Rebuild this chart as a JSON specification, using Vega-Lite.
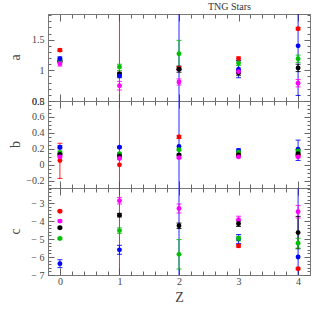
{
"$schema":"https://vega.github.io/schema/vega-lite/v6.json",
"padding":{"left":5,"top":1,"right":5,"bottom":5},
"title":{"text":"TNG Stars","anchor":"end","dx":-60,"dy":2,"fontSize":10,"font":"Liberation Serif","fontWeight":"normal","color":"#333","offset":0},
"bounds":"flush",
"spacing":0,
"datasets":{
"a":[
{"z":0,"s":"red","v":1.33,"lo":1.31,"hi":1.35},{"z":0,"s":"black","v":1.15,"lo":1.13,"hi":1.17},{"z":0,"s":"green","v":1.165,"lo":1.14,"hi":1.19},{"z":0,"s":"blue","v":1.19,"lo":1.16,"hi":1.22},{"z":0,"s":"magenta","v":1.11,"lo":1.07,"hi":1.15},
{"z":1,"s":"red","v":0.92,"lo":-5,"hi":8},{"z":1,"s":"black","v":0.94,"lo":0.91,"hi":0.97},{"z":1,"s":"blue","v":0.91,"lo":0.88,"hi":0.94},{"z":1,"s":"green","v":1.055,"lo":1.0,"hi":1.1},{"z":1,"s":"magenta","v":0.75,"lo":0.68,"hi":0.82},
{"z":2,"s":"blue","v":1.02,"lo":-5,"hi":8},{"z":2,"s":"red","v":1.03,"lo":1.0,"hi":1.06},{"z":2,"s":"black","v":1.02,"lo":0.97,"hi":1.07},{"z":2,"s":"green","v":1.27,"lo":1.05,"hi":1.49},{"z":2,"s":"magenta","v":0.81,"lo":0.76,"hi":0.86},
{"z":3,"s":"black","v":0.96,"lo":0.92,"hi":1.0},{"z":3,"s":"red","v":1.19,"lo":1.16,"hi":1.22},{"z":3,"s":"green","v":1.12,"lo":1.08,"hi":1.16},{"z":3,"s":"blue","v":1.02,"lo":0.88,"hi":1.16},{"z":3,"s":"magenta","v":0.98,"lo":0.95,"hi":1.01},
{"z":4,"s":"red","v":1.68,"lo":1.66,"hi":1.7},{"z":4,"s":"blue","v":1.4,"lo":0.59,"hi":2.21},{"z":4,"s":"green","v":1.19,"lo":1.13,"hi":1.25},{"z":4,"s":"black","v":1.04,"lo":0.98,"hi":1.1},{"z":4,"s":"magenta","v":0.79,"lo":0.73,"hi":0.85}
],
"b":[
{"z":0,"s":"red","v":0.055,"lo":-0.17,"hi":0.27},{"z":0,"s":"blue","v":0.22,"lo":0.2,"hi":0.24},{"z":0,"s":"green","v":0.155,"lo":0.14,"hi":0.17},{"z":0,"s":"black","v":0.13,"lo":0.12,"hi":0.14},{"z":0,"s":"magenta","v":0.1,"lo":0.09,"hi":0.11},
{"z":1,"s":"red","v":0.0,"lo":-5,"hi":5},{"z":1,"s":"blue","v":0.22,"lo":0.21,"hi":0.23},{"z":1,"s":"green","v":0.14,"lo":0.13,"hi":0.15},{"z":1,"s":"black","v":0.11,"lo":0.1,"hi":0.12},{"z":1,"s":"magenta","v":0.08,"lo":0.07,"hi":0.09},
{"z":2,"s":"blue","v":0.23,"lo":-5,"hi":5},{"z":2,"s":"red","v":0.35,"lo":0.33,"hi":0.37},{"z":2,"s":"green","v":0.19,"lo":0.18,"hi":0.2},{"z":2,"s":"black","v":0.125,"lo":0.115,"hi":0.135},{"z":2,"s":"magenta","v":0.09,"lo":0.08,"hi":0.1},
{"z":3,"s":"red","v":0.14,"lo":0.13,"hi":0.15},{"z":3,"s":"blue","v":0.18,"lo":0.16,"hi":0.2},{"z":3,"s":"green","v":0.16,"lo":0.15,"hi":0.17},{"z":3,"s":"black","v":0.125,"lo":0.115,"hi":0.135},{"z":3,"s":"magenta","v":0.1,"lo":0.09,"hi":0.11},
{"z":4,"s":"red","v":0.12,"lo":0.11,"hi":0.13},{"z":4,"s":"blue","v":0.196,"lo":0.055,"hi":0.31},{"z":4,"s":"green","v":0.175,"lo":0.165,"hi":0.185},{"z":4,"s":"black","v":0.14,"lo":0.13,"hi":0.15},{"z":4,"s":"magenta","v":0.1,"lo":0.09,"hi":0.11}
],
"c":[
{"z":0,"s":"red","v":-3.45,"lo":-3.5,"hi":-3.4},{"z":0,"s":"magenta","v":-4.0,"lo":-4.05,"hi":-3.95},{"z":0,"s":"black","v":-4.37,"lo":-4.42,"hi":-4.32},{"z":0,"s":"green","v":-4.97,"lo":-5.02,"hi":-4.92},{"z":0,"s":"blue","v":-6.37,"lo":-6.59,"hi":-6.15},
{"z":1,"s":"red","v":-8,"lo":-20,"hi":10},{"z":1,"s":"magenta","v":-2.87,"lo":-3.05,"hi":-2.69},{"z":1,"s":"black","v":-3.67,"lo":-3.77,"hi":-3.57},{"z":1,"s":"green","v":-4.53,"lo":-4.68,"hi":-4.38},{"z":1,"s":"blue","v":-5.6,"lo":-5.85,"hi":-5.35},
{"z":2,"s":"blue","v":-8,"lo":-20,"hi":10},{"z":2,"s":"red","v":-7.6,"lo":-7.7,"hi":-7.5},{"z":2,"s":"magenta","v":-3.3,"lo":-3.55,"hi":-3.05},{"z":2,"s":"black","v":-4.26,"lo":-4.41,"hi":-4.11},{"z":2,"s":"green","v":-5.85,"lo":-6.67,"hi":-5.03},
{"z":3,"s":"red","v":-5.38,"lo":-5.45,"hi":-5.31},{"z":3,"s":"magenta","v":-3.93,"lo":-4.13,"hi":-3.73},{"z":3,"s":"black","v":-4.15,"lo":-4.3,"hi":-4.0},{"z":3,"s":"blue","v":-5.0,"lo":-5.25,"hi":-4.75},{"z":3,"s":"green","v":-4.97,"lo":-5.1,"hi":-4.84},
{"z":4,"s":"blue","v":-6.0,"lo":-20,"hi":10},{"z":4,"s":"red","v":-6.65,"lo":-6.7,"hi":-6.6},{"z":4,"s":"magenta","v":-3.48,"lo":-3.83,"hi":-3.13},{"z":4,"s":"black","v":-4.64,"lo":-5.54,"hi":-3.74},{"z":4,"s":"green","v":-5.23,"lo":-5.5,"hi":-4.96}
]
},
"vconcat":[
{
"width":262,"height":87,
"data":{"name":"a"},
"resolve":{"axis":{"x":"independent","y":"independent"}},
"layer":[
{"mark":{"type":"rule","clip":true,"strokeWidth":1,"opacity":0.85},
"encoding":{
"x":{"field":"z","type":"quantitative","scale":{"domain":[-0.2,4.2],"nice":false,"zero":false},
"axis":{"orient":"top","title":null,"labels":false,"values":[0,0.2,0.4,0.6,0.8,1,1.2,1.4,1.6,1.8,2,2.2,2.4,2.6,2.8,3,3.2,3.4,3.6,3.8,4],"tickSize":{"condition":{"test":"abs(datum.value-round(datum.value))<0.001","value":-7},"value":-4},"minExtent":0,"maxExtent":0}},
"y":{"field":"lo","type":"quantitative","scale":{"domain":[0.5,1.92],"nice":false,"zero":false},
"axis":{"orient":"right","title":null,"labels":false,"values":[0.5,0.6,0.7,0.8,0.9,1,1.1,1.2,1.3,1.4,1.5,1.6,1.7,1.8,1.9],"tickSize":{"condition":{"test":"abs(datum.value*2-round(datum.value*2))<0.001","value":-6},"value":-3},"minExtent":0,"maxExtent":0}},
"y2":{"field":"hi"},
"color":{"field":"s","type":"nominal","scale":{"domain":["red","blue","green","magenta","black"],"range":["#ff0000","#0000ff","#00c000","#ff00ff","#000000"]},"legend":null}}},
{"mark":{"type":"tick","orient":"horizontal","size":5,"thickness":1,"clip":true,"opacity":0.85},
"encoding":{"x":{"field":"z","type":"quantitative","axis":null},"y":{"field":"lo","type":"quantitative","axis":null},"color":{"field":"s","type":"nominal","legend":null}}},
{"mark":{"type":"tick","orient":"horizontal","size":5,"thickness":1,"clip":true,"opacity":0.85},
"encoding":{"x":{"field":"z","type":"quantitative","axis":null},"y":{"field":"hi","type":"quantitative","axis":null},"color":{"field":"s","type":"nominal","legend":null}}},
{"mark":{"type":"circle","size":24,"opacity":1,"clip":true},
"encoding":{
"x":{"field":"z","type":"quantitative",
"axis":{"orient":"bottom","title":null,"labels":false,"values":[0,0.2,0.4,0.6,0.8,1,1.2,1.4,1.6,1.8,2,2.2,2.4,2.6,2.8,3,3.2,3.4,3.6,3.8,4],"tickSize":{"condition":{"test":"abs(datum.value-round(datum.value))<0.001","value":-7},"value":-4},"minExtent":0,"maxExtent":0}},
"y":{"field":"v","type":"quantitative",
"axis":{"orient":"left","title":"a","titleX":-33,"titleY":43,"titleAngle":-90,"titleBaseline":"middle","titleAlign":"center","values":[0.5,0.6,0.7,0.8,0.9,1,1.1,1.2,1.3,1.4,1.5,1.6,1.7,1.8,1.9],"tickSize":{"condition":{"test":"abs(datum.value*2-round(datum.value*2))<0.001","value":-6},"value":-3},"labelExpr":"abs(datum.value*2-round(datum.value*2))<0.001 ? replace(''+datum.value,'-','\u2212') : ''","labelPadding":10,"minExtent":42,"maxExtent":42}},
"color":{"field":"s","type":"nominal","legend":null}}}
]
},
{
"width":262,"height":87,
"data":{"name":"b"},
"resolve":{"axis":{"x":"independent","y":"independent"}},
"layer":[
{"mark":{"type":"rule","clip":true,"strokeWidth":1,"opacity":0.85},
"encoding":{
"x":{"field":"z","type":"quantitative","scale":{"domain":[-0.2,4.2],"nice":false,"zero":false},
"axis":{"orient":"top","title":null,"labels":false,"values":[0,0.2,0.4,0.6,0.8,1,1.2,1.4,1.6,1.8,2,2.2,2.4,2.6,2.8,3,3.2,3.4,3.6,3.8,4],"tickSize":{"condition":{"test":"abs(datum.value-round(datum.value))<0.001","value":-7},"value":-4},"minExtent":0,"maxExtent":0}},
"y":{"field":"lo","type":"quantitative","scale":{"domain":[-0.29,0.8],"nice":false,"zero":false},
"axis":{"orient":"right","title":null,"labels":false,"values":[-0.25,-0.2,-0.15,-0.1,-0.05,0,0.05,0.1,0.15,0.2,0.25,0.3,0.35,0.4,0.45,0.5,0.55,0.6,0.65,0.7,0.75,0.8],"tickSize":{"condition":{"test":"abs(datum.value*5-round(datum.value*5))<0.001","value":-6},"value":-3},"minExtent":0,"maxExtent":0}},
"y2":{"field":"hi"},
"color":{"field":"s","type":"nominal","scale":{"domain":["red","blue","green","magenta","black"],"range":["#ff0000","#0000ff","#00c000","#ff00ff","#000000"]},"legend":null}}},
{"mark":{"type":"tick","orient":"horizontal","size":5,"thickness":1,"clip":true,"opacity":0.85},
"encoding":{"x":{"field":"z","type":"quantitative","axis":null},"y":{"field":"lo","type":"quantitative","axis":null},"color":{"field":"s","type":"nominal","legend":null}}},
{"mark":{"type":"tick","orient":"horizontal","size":5,"thickness":1,"clip":true,"opacity":0.85},
"encoding":{"x":{"field":"z","type":"quantitative","axis":null},"y":{"field":"hi","type":"quantitative","axis":null},"color":{"field":"s","type":"nominal","legend":null}}},
{"mark":{"type":"circle","size":24,"opacity":1,"clip":true},
"encoding":{
"x":{"field":"z","type":"quantitative",
"axis":{"orient":"bottom","title":null,"labels":false,"values":[0,0.2,0.4,0.6,0.8,1,1.2,1.4,1.6,1.8,2,2.2,2.4,2.6,2.8,3,3.2,3.4,3.6,3.8,4],"tickSize":{"condition":{"test":"abs(datum.value-round(datum.value))<0.001","value":-7},"value":-4},"minExtent":0,"maxExtent":0}},
"y":{"field":"v","type":"quantitative",
"axis":{"orient":"left","title":"b","titleX":-33,"titleY":43,"titleAngle":-90,"titleBaseline":"middle","titleAlign":"center","values":[-0.25,-0.2,-0.15,-0.1,-0.05,0,0.05,0.1,0.15,0.2,0.25,0.3,0.35,0.4,0.45,0.5,0.55,0.6,0.65,0.7,0.75,0.8],"tickSize":{"condition":{"test":"abs(datum.value*5-round(datum.value*5))<0.001","value":-6},"value":-3},"labelExpr":"abs(datum.value*5-round(datum.value*5))<0.001 ? replace(''+datum.value,'-','\u2212') : ''","labelPadding":10,"minExtent":42,"maxExtent":42}},
"color":{"field":"s","type":"nominal","legend":null}}}
]
},
{
"width":262,"height":87,
"data":{"name":"c"},
"resolve":{"axis":{"x":"independent","y":"independent"}},
"layer":[
{"mark":{"type":"rule","clip":true,"strokeWidth":1,"opacity":0.85},
"encoding":{
"x":{"field":"z","type":"quantitative","scale":{"domain":[-0.2,4.2],"nice":false,"zero":false},
"axis":{"orient":"top","title":null,"labels":false,"values":[0,0.2,0.4,0.6,0.8,1,1.2,1.4,1.6,1.8,2,2.2,2.4,2.6,2.8,3,3.2,3.4,3.6,3.8,4],"tickSize":{"condition":{"test":"abs(datum.value-round(datum.value))<0.001","value":-7},"value":-4},"minExtent":0,"maxExtent":0}},
"y":{"field":"lo","type":"quantitative","scale":{"domain":[-7,-2.16],"nice":false,"zero":false},
"axis":{"orient":"right","title":null,"labels":false,"values":[-7,-6.8,-6.6,-6.4,-6.2,-6,-5.8,-5.6,-5.4,-5.2,-5,-4.8,-4.6,-4.4,-4.2,-4,-3.8,-3.6,-3.4,-3.2,-3,-2.8,-2.6,-2.4,-2.2],"tickSize":{"condition":{"test":"abs(datum.value-round(datum.value))<0.001","value":-6},"value":-3},"minExtent":0,"maxExtent":0}},
"y2":{"field":"hi"},
"color":{"field":"s","type":"nominal","scale":{"domain":["red","blue","green","magenta","black"],"range":["#ff0000","#0000ff","#00c000","#ff00ff","#000000"]},"legend":null}}},
{"mark":{"type":"tick","orient":"horizontal","size":5,"thickness":1,"clip":true,"opacity":0.85},
"encoding":{"x":{"field":"z","type":"quantitative","axis":null},"y":{"field":"lo","type":"quantitative","axis":null},"color":{"field":"s","type":"nominal","legend":null}}},
{"mark":{"type":"tick","orient":"horizontal","size":5,"thickness":1,"clip":true,"opacity":0.85},
"encoding":{"x":{"field":"z","type":"quantitative","axis":null},"y":{"field":"hi","type":"quantitative","axis":null},"color":{"field":"s","type":"nominal","legend":null}}},
{"mark":{"type":"circle","size":24,"opacity":1,"clip":true},
"encoding":{
"x":{"field":"z","type":"quantitative",
"axis":{"orient":"bottom","title":"Z","titlePadding":1,"labelPadding":8,"values":[0,0.2,0.4,0.6,0.8,1,1.2,1.4,1.6,1.8,2,2.2,2.4,2.6,2.8,3,3.2,3.4,3.6,3.8,4],"tickSize":{"condition":{"test":"abs(datum.value-round(datum.value))<0.001","value":-7},"value":-4},"labelExpr":"abs(datum.value-round(datum.value))<0.001 ? ''+datum.value : ''"}},
"y":{"field":"v","type":"quantitative",
"axis":{"orient":"left","title":"c","titleX":-33,"titleY":43,"titleAngle":-90,"titleBaseline":"middle","titleAlign":"center","values":[-7,-6.8,-6.6,-6.4,-6.2,-6,-5.8,-5.6,-5.4,-5.2,-5,-4.8,-4.6,-4.4,-4.2,-4,-3.8,-3.6,-3.4,-3.2,-3,-2.8,-2.6,-2.4,-2.2],"tickSize":{"condition":{"test":"abs(datum.value-round(datum.value))<0.001","value":-6},"value":-3},"labelExpr":"abs(datum.value-round(datum.value))<0.001 ? replace(''+datum.value,'-','\u2212 ') : ''","labelPadding":10,"minExtent":42,"maxExtent":42}},
"color":{"field":"s","type":"nominal","legend":null}}}
]
}
],
"config":{
"view":{"stroke":"#777","strokeWidth":1},
"axis":{"labelFont":"Liberation Serif","labelFontSize":10,"labelColor":"#444","titleFont":"Liberation Serif","titleFontSize":14,"titleFontWeight":"normal","titleColor":"#444","tickColor":"#666","domainColor":"#777","grid":false,"labelFlush":false,"labelOverlap":false,"labelBound":false}
}
}
